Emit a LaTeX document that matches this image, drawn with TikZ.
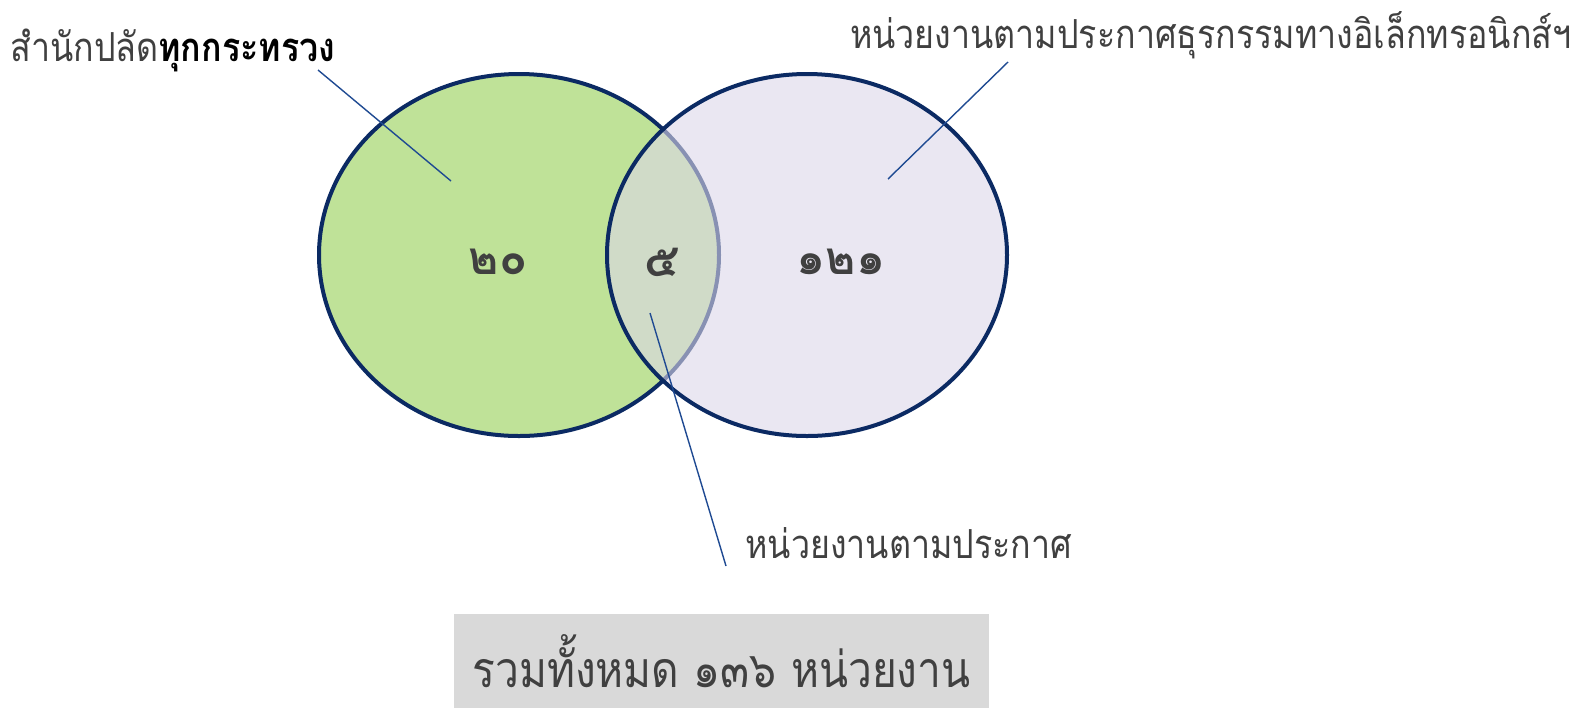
\documentclass[tikz,border=0pt]{standalone}
\usepackage{fontspec}
\newfontfamily\thaifont[Script=Thai]{Loma}
\newfontfamily\thainarrow[Script=Thai, FakeStretch=0.85]{Loma}
\usetikzlibrary{positioning}

\definecolor{venngreen}{HTML}{BFE298}
\definecolor{vennlilac}{HTML}{DCD7E9}
\definecolor{vennedge}{HTML}{0B2A63}
\definecolor{leadblue}{HTML}{1F4A92}
\definecolor{textgray}{HTML}{404040}
\definecolor{totalgray}{HTML}{D9D9D9}

\begin{document}
\begin{tikzpicture}[x=0.5pt, y=-0.5pt,
  font=\thaifont, text=textgray,
  label/.style={font=\thainarrow\fontsize{20}{24}\selectfont, inner sep=0pt},
  count/.style={font=\thaifont\bfseries\fontsize{23}{26}\selectfont},
  leader/.style={leadblue, line width=0.7pt}]
\useasboundingbox (0,0) rectangle (1579,708);

% the two sets
\draw[vennedge, line width=2pt, fill=venngreen] (519,255) ellipse [x radius=200, y radius=181];
\draw[vennedge, line width=2pt, fill=vennlilac, fill opacity=0.6] (807,255) ellipse [x radius=200, y radius=181];

% counts
\node[count] (left) at (498,262) {๒๐};
\node[count] (both) at (662,262) {๕};
\node[count] (right) at (841,262) {๑๒๑};

% labels
\node[label, anchor=west] (ministry) at (10,50) {สำนักปลัด{\color{black}\bfseries ทุกกระทรวง}};
\node[label, anchor=east] (etrans) at (1572,35) {หน่วยงานตามประกาศธุรกรรมทางอิเล็กทรอนิกส์ฯ};
\node[label, anchor=west] (decree) at (745,543) {หน่วยงานตามประกาศ};

\coordinate (ministry end) at (318,70);
\coordinate (ministry in) at (451,181);
\coordinate (etrans end) at (1008,62);
\coordinate (etrans in) at (888,179);
\coordinate (decree end) at (726,566);
\coordinate (decree in) at (650,313);
\draw[leader] (ministry end) -- (ministry in);
\draw[leader] (etrans end) -- (etrans in);
\draw[leader] (decree end) -- (decree in);

% total
\node[fill=totalgray, minimum width=267.5pt, minimum height=47pt, inner sep=0pt,
      font=\thainarrow\fontsize{25}{30}\selectfont] (total) at (721.5,661) {รวมทั้งหมด ๑๓๖ หน่วยงาน};
\end{tikzpicture}
\end{document}
